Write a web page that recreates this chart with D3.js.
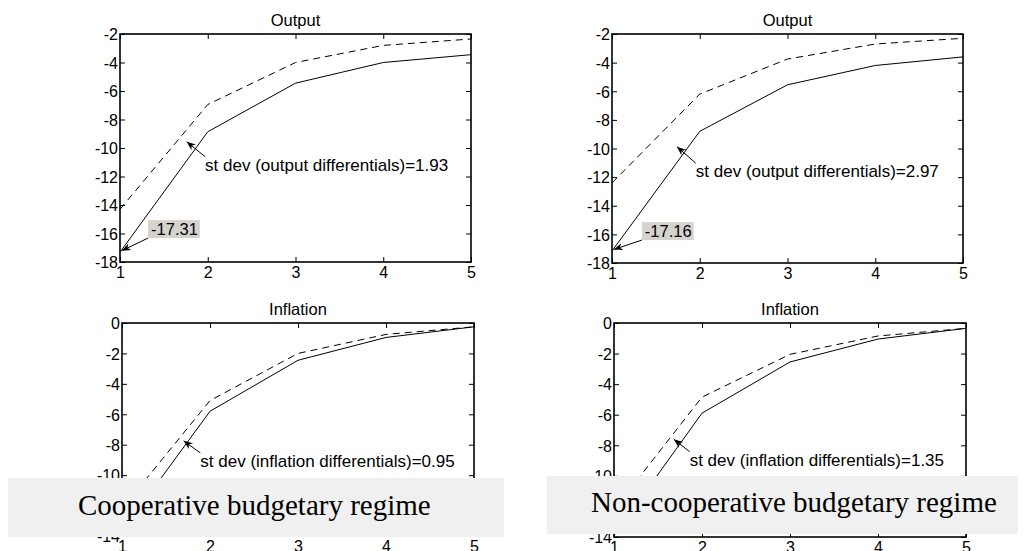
<!DOCTYPE html>
<html>
<head>
<meta charset="utf-8">
<script src="https://cdn.jsdelivr.net/npm/d3@7"></script>
<style>
  body { margin: 0; background: #fff; }
  svg { display: block; }
  text { font-family: "Liberation Sans", Arial, sans-serif; fill: #000; }
</style>
</head>
<body>
<div id="wrapper"></div>
<script>
// periods on the x axis
const periods = [1, 2, 3, 4, 5];

// Output responses (solid / dashed)
const coopOutputSolid = [-17.31, -8.86, -5.45, -4.0, -3.45];
const coopOutputDashed = [-14.3, -6.95, -4.0, -2.8, -2.35];
const noncoopOutputSolid = [-17.16, -8.8, -5.55, -4.2, -3.6];
const noncoopOutputDashed = [-12.4, -6.2, -3.75, -2.7, -2.3];

// Inflation responses (solid / dashed)
const coopInflationSolid = [-13.7, -5.8, -2.45, -0.95, -0.25];
const coopInflationDashed = [-12.2, -5.1, -2.0, -0.75, -0.25];
const noncoopInflationSolid = [-13.9, -5.9, -2.55, -1.05, -0.35];
const noncoopInflationDashed = [-12.2, -4.85, -2.05, -0.85, -0.35];

// axis ticks
const xTicks = [1, 2, 3, 4, 5];
const outputTicks = [-18, -16, -14, -12, -10, -8, -6, -4, -2];
const inflationTicks = [-14, -12, -10, -8, -6, -4, -2, 0];

// texts
const panelTitles = ["Output", "Output", "Inflation", "Inflation"];
const stDevNotes = [
  "st dev (output differentials)=1.93",
  "st dev (output differentials)=2.97",
  "st dev (inflation differentials)=0.95",
  "st dev (inflation differentials)=1.35"
];
const firstValueLabels = ["-17.31", "-17.16"];
const regimeLabels = ["Cooperative budgetary regime", "Non-cooperative budgetary regime"];

const W = 1031, H = 551;

const svg = d3.select("#wrapper")
  .append("svg")
  .attr("width", W)
  .attr("height", H);

const defs = svg.append("defs");
defs.append("marker")
  .attr("id", "head")
  .attr("viewBox", "-10 -5 10 10")
  .attr("refX", 0).attr("refY", 0)
  .attr("markerWidth", 9).attr("markerHeight", 9)
  .attr("markerUnits", "userSpaceOnUse")
  .attr("orient", "auto")
  .append("path")
  .attr("d", "M0,0 L-10,-4 L-7,0 L-10,4 Z")
  .attr("fill", "#000");

// plain hyphen minus, like the original plot
const fmt = d => String(d);

// layout: [left, right, top, bottom]
const panels = [
  { frame: [120, 471, 34, 262], domain: [-18, -2], ticks: outputTicks, title: panelTitles[0],
    solid: coopOutputSolid, dashed: coopOutputDashed, note: stDevNotes[0],
    tip: [1.76, -9.56], tail: [1.97, -10.61], value: firstValueLabels[0], valueAt: [1.32, -16.32] },
  { frame: [612, 963, 34, 263], domain: [-18, -2], ticks: outputTicks, title: panelTitles[1],
    solid: noncoopOutputSolid, dashed: noncoopOutputDashed, note: stDevNotes[1],
    tip: [1.74, -9.87], tail: [1.955, -11.03], value: firstValueLabels[1], valueAt: [1.34, -16.4] },
  { frame: [122, 474, 323, 536], domain: [-14, 0], ticks: inflationTicks, title: panelTitles[2],
    solid: coopInflationSolid, dashed: coopInflationDashed, note: stDevNotes[2],
    tip: [1.70, -7.74], tail: [1.89, -8.54] },
  { frame: [614, 966, 323, 537], domain: [-14, 0], ticks: inflationTicks, title: panelTitles[3],
    solid: noncoopInflationSolid, dashed: noncoopInflationDashed, note: stDevNotes[3],
    tip: [1.68, -7.61], tail: [1.86, -8.42] }
];

panels.forEach(p => {
  const [x0, x1, y0, y1] = p.frame;
  const x = d3.scaleLinear().domain([1, 5]).range([x0, x1]);
  const y = d3.scaleLinear().domain(p.domain).range([y1, y0]);
  const g = svg.append("g");

  g.append("text")
    .attr("x", (x0 + x1) / 2)
    .attr("y", y0 - 8)
    .attr("text-anchor", "middle")
    .style("font-size", "16.5px")
    .text(p.title);

  const left = g.append("g").attr("transform", `translate(${x0},0)`)
    .call(d3.axisLeft(y).tickValues(p.ticks).tickSizeInner(-5).tickSizeOuter(0).tickPadding(2).tickFormat(fmt));
  const right = g.append("g").attr("transform", `translate(${x1},0)`)
    .call(d3.axisRight(y).tickValues(p.ticks).tickSizeInner(-5).tickSizeOuter(0).tickFormat(""));
  const bottom = g.append("g").attr("transform", `translate(0,${y1})`)
    .call(d3.axisBottom(x).tickValues(xTicks).tickSizeInner(-5).tickSizeOuter(0).tickPadding(4).tickFormat(fmt));
  const top = g.append("g").attr("transform", `translate(0,${y0})`)
    .call(d3.axisTop(x).tickValues(xTicks).tickSizeInner(-5).tickSizeOuter(0).tickFormat(""));

  [left, right, bottom, top].forEach(a => {
    a.select(".domain").remove();
    a.selectAll("line").attr("stroke", "#000").attr("stroke-width", 1);
    a.selectAll("text").style("font-size", "16px").style("font-family", "'Liberation Sans', Arial, sans-serif").attr("fill", "#000");
  });
  left.selectAll("text").attr("dy", "0.36em");
  bottom.selectAll("text").attr("dy", "0.78em");

  g.append("rect")
    .attr("x", x0).attr("y", y0)
    .attr("width", x1 - x0).attr("height", y1 - y0)
    .attr("fill", "none")
    .attr("stroke", "#000")
    .attr("stroke-width", 1.6);

  const line = d3.line().x((d, i) => x(periods[i])).y(d => y(d));

  g.append("path")
    .attr("d", line(p.dashed))
    .attr("fill", "none")
    .attr("stroke", "#000")
    .attr("stroke-width", 1)
    .attr("stroke-dasharray", "7,5");

  g.append("path")
    .attr("d", line(p.solid))
    .attr("fill", "none")
    .attr("stroke", "#000")
    .attr("stroke-width", 1);

  // st dev annotation
  g.append("line")
    .attr("x1", x(p.tail[0])).attr("y1", y(p.tail[1]))
    .attr("x2", x(p.tip[0])).attr("y2", y(p.tip[1]))
    .attr("stroke", "#000").attr("stroke-width", 1)
    .attr("marker-end", "url(#head)");
  g.append("text")
    .attr("x", x(p.tail[0]))
    .attr("y", y(p.tail[1]) + 14)
    .style("font-size", "17px")
    .text(p.note);

  // value label at the first period
  if (p.value) {
    const bx = x(p.valueAt[0]), by = y(p.valueAt[1]);
    const rect = g.append("rect").attr("fill", "#d6d3ce");
    const t = g.append("text")
      .attr("x", bx + 3)
      .attr("y", by - 3)
      .style("font-size", "16.5px")
      .text(p.value);
    const bb = t.node().getBBox();
    rect.attr("x", bx).attr("y", by - 18).attr("width", bb.width + 5).attr("height", 18);
    g.append("line")
      .attr("x1", bx).attr("y1", by)
      .attr("x2", x(1.02)).attr("y2", y(p.solid[0] + 0.1))
      .attr("stroke", "#000").attr("stroke-width", 1)
      .attr("marker-end", "url(#head)");
  }
});

// regime captions laid over the lower panels
const captions = [
  { box: [8, 478, 496, 59], text: regimeLabels[0], tx: 78, ty: 515 },
  { box: [547, 476, 471, 58], text: regimeLabels[1], tx: 591, ty: 512 }
];
captions.forEach(c => {
  svg.append("rect")
    .attr("x", c.box[0]).attr("y", c.box[1])
    .attr("width", c.box[2]).attr("height", c.box[3])
    .attr("fill", "#f0f0f0");
  svg.append("text")
    .attr("x", c.tx).attr("y", c.ty)
    .style("font-family", "'Liberation Serif', 'Times New Roman', serif")
    .style("font-size", "29px")
    .text(c.text);
});
</script>
</body>
</html>
